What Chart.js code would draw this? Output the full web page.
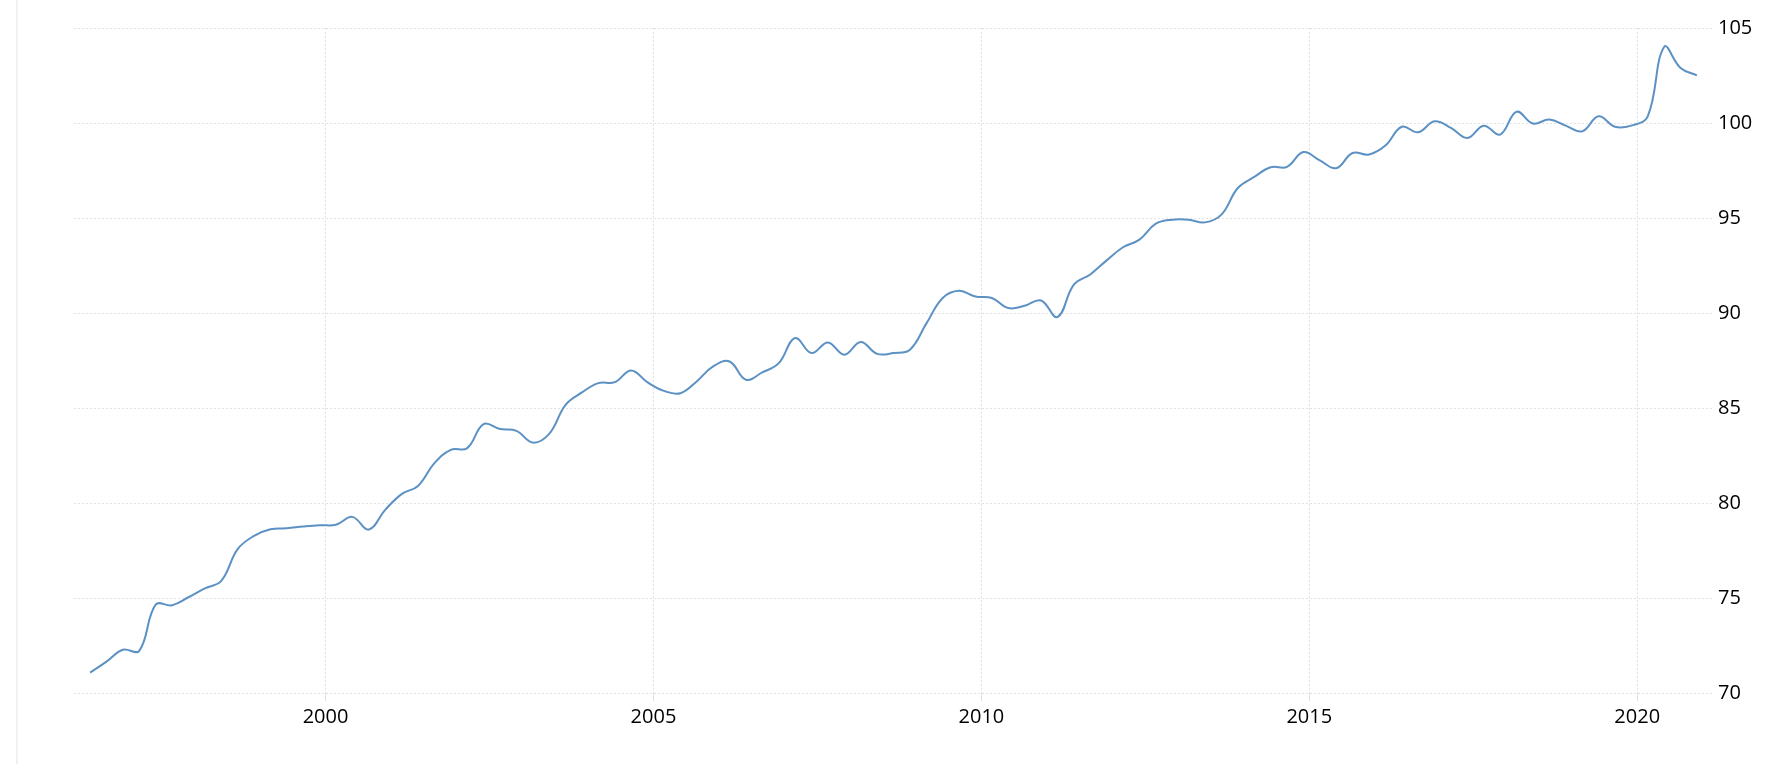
<!DOCTYPE html>
<html>
<head>
<meta charset="utf-8">
<script src="https://cdn.jsdelivr.net/npm/chart.js@4"></script>
<style>
  html, body { margin: 0; padding: 0; background: #fff; }
  #wrap { position: relative; width: 1791px; height: 764px; }
  #edge { position: absolute; left: 16px; top: 0; width: 2px; height: 764px; background: #f1f1f1; }
</style>
</head>
<body>
<div id="wrap">
  <div id="edge"></div>
  <canvas id="myChart" width="1791" height="764"></canvas>
</div>
<script>
// quarterly index, first point 1996 Q2, last point 2020 Q4
const startYear = 1996
const startQuarter = 2
const indexValues = [
  71.07, 71.65, 72.28,                                   // 1996
  72.22, 74.65, 74.62, 75.04,                            // 1997
  75.51, 75.90, 77.57, 78.27,                            // 1998
  78.62, 78.67, 78.76, 78.83,                            // 1999
  78.86, 79.27, 78.60, 79.64,                            // 2000
  80.47, 80.90, 82.10, 82.80,                            // 2001
  82.89, 84.15, 83.89, 83.80,                            // 2002
  83.18, 83.64, 85.17, 85.82,                            // 2003
  86.31, 86.36, 86.98, 86.35,                            // 2004
  85.90, 85.78, 86.40, 87.19,                            // 2005
  87.45, 86.49, 86.87, 87.36,                            // 2006
  88.68, 87.89, 88.45, 87.80,                            // 2007
  88.47, 87.85, 87.89, 88.07,                            // 2008
  89.44, 90.79, 91.17, 90.87,                            // 2009
  90.79, 90.26, 90.38, 90.66,                            // 2010
  89.79, 91.49, 92.03, 92.77,                            // 2011
  93.46, 93.86, 94.70, 94.91,                            // 2012
  94.91, 94.77, 95.18, 96.58,                            // 2013
  97.16, 97.67, 97.69, 98.47,                            // 2014
  98.03, 97.62, 98.42, 98.34,                            // 2015
  98.81, 99.80, 99.51, 100.09,                           // 2016
  99.74, 99.21, 99.86, 99.39,                            // 2017
  100.59, 99.97, 100.18, 99.86,                          // 2018
  99.56, 100.35, 99.80, 99.86,                           // 2019
  100.35, 104.00, 102.90, 102.51                         // 2020
]
const xTicks = [2000, 2005, 2010, 2015, 2020]
const yTicks = [70, 75, 80, 85, 90, 95, 100, 105]

// quarter labels and their place on the time axis
const quarterLabels = indexValues.map((v, i) => {
  const n = (startQuarter - 1) + i
  return (startYear + Math.floor(n / 4)) + ' Q' + (n % 4 + 1)
})
const points = quarterLabels.map((q, i) => {
  const year = parseInt(q)
  const qn = parseInt(q.slice(-1))
  return { x: year + (qn - 1) / 4 + 0.16, y: indexValues[i] }
})

const gridColor = '#e2e2e2'
const tickFont = { family: '"Open Sans", sans-serif', size: 20 }

new Chart(document.getElementById('myChart'), {
  type: 'line',
  data: {
    datasets: [{
      label: 'Index',
      data: points,
      borderColor: 'rgb(92, 145, 196)',
      borderWidth: 2,
      pointRadius: 0,
      pointHoverRadius: 0,
      tension: 0.4,
      fill: false,
    }],
  },
  options: {
    responsive: false,
    animation: false,
    devicePixelRatio: 1,
    layout: { padding: { left: 74, top: 28, right: 0, bottom: 0 } },
    plugins: {
      legend: { display: false },
      tooltip: { enabled: false },
    },
    scales: {
      x: {
        type: 'linear',
        min: 1996.165,
        max: 2021.14,
        afterBuildTicks: s => { s.ticks = xTicks.map(v => ({ value: v })) },
        afterFit: s => { s.height = 71 },
        ticks: {
          callback: v => String(v),
          color: '#000',
          font: tickFont,
          padding: 4,
          maxRotation: 0,
        },
        grid: { color: gridColor, tickLength: 8, tickColor: gridColor },
        border: { display: false, dash: [2, 2] },
      },
      y: {
        position: 'right',
        min: 70,
        max: 105,
        afterBuildTicks: s => { s.ticks = yTicks.map(v => ({ value: v })) },
        afterFit: s => { s.width = 79 },
        ticks: {
          color: '#000',
          font: tickFont,
          padding: 6,
        },
        grid: { color: gridColor, drawTicks: false },
        border: { display: false, dash: [2, 2] },
      },
    },
  },
})
</script>
</body>
</html>
